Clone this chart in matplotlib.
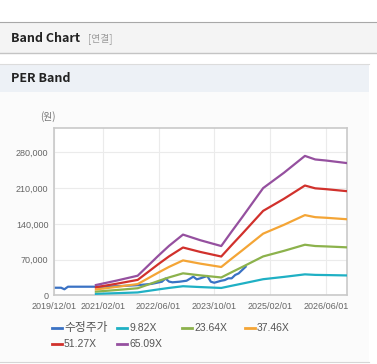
import matplotlib
matplotlib.use("Agg")
import matplotlib.pyplot as plt
from matplotlib.patches import Rectangle
from matplotlib.lines import Line2D
import numpy as np
import pandas as pd

plt.rcParams['font.family'] = ['Liberation Sans', 'Noto Sans CJK KR', 'DejaVu Sans']

# 수정주가 (monthly)
price_dates = ["2019-12-01", "2020-02-01", "2020-03-01", "2020-04-01", "2021-02-01",
               "2021-06-01", "2021-12-01", "2022-04-01", "2022-07-01", "2022-08-01",
               "2022-09-01", "2022-10-01", "2022-12-01", "2023-02-01", "2023-04-01",
               "2023-05-01", "2023-06-01", "2023-08-01", "2023-09-01", "2023-10-01",
               "2023-12-01", "2024-01-01", "2024-02-01", "2024-03-01", "2024-04-01",
               "2024-05-01", "2024-06-01", "2024-07-01"]
price = [15000, 15000, 12000, 17000, 17000,
         18000, 20000, 22500, 26800, 33000,
         27000, 25600, 26800, 28700, 36600,
         31500, 33400, 38000, 26800, 24800,
         28700, 30000, 33400, 33400, 40000,
         43000, 49700, 56000]

# EPS used for the PER band lines
eps_dates = ["2020-12-01", "2021-06-01", "2021-12-01", "2022-03-01", "2022-06-01",
             "2022-09-01", "2023-01-01", "2023-06-01", "2023-12-01", "2024-03-01",
             "2024-06-01", "2024-12-01", "2025-06-01", "2025-12-01", "2026-03-01",
             "2026-06-01", "2026-12-01"]
eps = [312, 446, 592, 891, 1198,
       1490, 1828, 1659, 1484, 1920,
       2350, 3226, 3688, 4194, 4087,
       4056, 3979]

multiples = [9.82, 23.64, 37.46, 51.27, 65.09]
band_labels = ["9.82X", "23.64X", "37.46X", "51.27X", "65.09X"]
band_colors = ["#1fb0c4", "#8cb24c", "#f4a536", "#d1312c", "#95509f"]
price_color = "#3a72c4"

y_ticks = [0, 70000, 140000, 210000, 280000]
x_ticks = ["2019/12/01", "2021/02/01", "2022/06/01", "2023/10/01", "2025/02/01", "2026/06/01"]

W, H = 377, 364
fig = plt.figure(figsize=(W / 100, H / 100), dpi=100)
fig.patch.set_facecolor("white")

def fx(px):
    return px / W

def fy(py):
    return 1 - py / H

# header bars
fig.patches.append(Rectangle((0, fy(53)), 1, (53 - 22) / H, transform=fig.transFigure,
                             facecolor="#f4f4f4", edgecolor="none", zorder=-2))
fig.add_artist(Line2D([0, 1], [fy(22), fy(22)], color="#a8a8a8", lw=0.8))
fig.add_artist(Line2D([0, 1], [fy(52.5), fy(52.5)], color="#c4c4c4", lw=1.0))
fig.text(fx(11), fy(38), "Band Chart", fontsize=9, fontweight="bold", color="#222222",
         va="center", ha="left", family=['Noto Sans CJK KR', 'DejaVu Sans'])
fig.text(fx(88), fy(38.5), "[연결]", fontsize=7, color="#9a9a9a",
         va="center", ha="left", family=['Noto Sans CJK KR', 'DejaVu Sans'])

fig.patches.append(Rectangle((0, fy(362)), fx(369), (362 - 92) / H, transform=fig.transFigure,
                             facecolor="#fbfbfb", edgecolor="none", zorder=-2))
fig.patches.append(Rectangle((0, fy(92)), fx(369), (92 - 64) / H, transform=fig.transFigure,
                             facecolor="#edf1f6", edgecolor="none", zorder=-2))
fig.add_artist(Line2D([0, fx(369)], [fy(64), fy(64)], color="#dcdcdc", lw=0.8))
fig.add_artist(Line2D([0, fx(369)], [fy(362), fy(362)], color="#d6d6d6", lw=0.8))
fig.text(fx(11), fy(79), "PER Band", fontsize=9, fontweight="bold", color="#222222",
         va="center", ha="left", family=['Noto Sans CJK KR', 'DejaVu Sans'])

# chart
ax = fig.add_axes([fx(54), fy(295.4), fx(346.7) - fx(54), (295.4 - 128.3) / H])
ax.set_facecolor("white")

pd_dates = pd.to_datetime(price_dates)
ed = pd.to_datetime(eps_dates)
eps_arr = np.array(eps, dtype=float)

ax.plot(pd_dates, price, color=price_color, lw=1.6, zorder=2)
for m, c in zip(multiples, band_colors):
    ax.plot(ed, eps_arr * m, color=c, lw=1.6, zorder=3)

ax.set_xlim(pd.Timestamp("2019-12-01"), pd.Timestamp("2026-12-01"))
ax.set_ylim(0, 327000)
ax.set_yticks(y_ticks)
ax.set_yticklabels([f"{v:,}" for v in y_ticks])
ax.set_xticks(pd.to_datetime([t.replace("/", "-") for t in x_ticks]))
ax.set_xticklabels(x_ticks)
ax.tick_params(axis="both", length=0, labelsize=6.5, labelcolor="#666666")
ax.tick_params(axis="y", pad=4)
ax.tick_params(axis="x", pad=5)
ax.grid(True, color="#ebebeb", lw=0.8, zorder=0)
ax.set_axisbelow(True)
for s in ax.spines.values():
    s.set_color("#c9c9c9")
    s.set_linewidth(1.2)

fig.text(fx(48), fy(117), "(원)", fontsize=7, color="#777777", ha="center", va="center",
         family=['Noto Sans CJK KR', 'DejaVu Sans'])

# legend
names = ["수정주가"] + band_labels
colors = [price_color] + band_colors
col_x = [52, 117, 182, 245]
row_y = [328, 344]
for i, (n, c) in enumerate(zip(names, colors)):
    x0 = col_x[i % 4]
    y0 = row_y[i // 4]
    fig.add_artist(Line2D([fx(x0), fx(x0 + 10)], [fy(y0), fy(y0)], color=c, lw=2))
    size = 8.5 if i == 0 else 7.5
    fig.text(fx(x0 + 12), fy(y0), n, fontsize=size, color="#555555", ha="left", va="center")

fig.savefig("out.png", dpi=100)
